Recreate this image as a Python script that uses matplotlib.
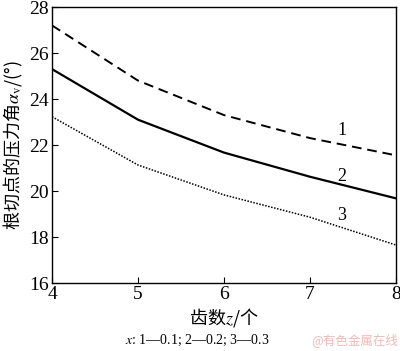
import matplotlib
matplotlib.use("Agg")
import matplotlib.pyplot as plt

z = [4, 5, 6, 7, 8]
curve1 = [27.2, 24.8, 23.3, 22.3, 21.55]
curve2 = [25.3, 23.1, 21.67, 20.62, 19.68]
curve3 = [23.23, 21.13, 19.83, 18.86, 17.65]
labels = ["1", "2", "3"]
label_pos = [(7.37, 22.65), (7.37, 20.65), (7.37, 18.95)]
xticks = [4, 5, 6, 7, 8]
yticks = [16, 18, 20, 22, 24, 26, 28]

plt.rcParams['font.family'] = ['Liberation Serif', 'Noto Sans CJK SC']
plt.rcParams['mathtext.fontset'] = 'stix'

fig = plt.figure(figsize=(4.0, 3.51), dpi=100)
ax = fig.add_axes([52/400, 1 - 283/351, 344/400, 276/351])

ax.plot(z, curve1, color='black', lw=1.4, linestyle=(0, (5, 3)))
ax.plot(z, curve2, color='black', lw=1.6, linestyle='-')
ax.plot(z, curve3, color='black', lw=1.1, linestyle=(0, (1, 1)))

for t, (x, y) in zip(labels, label_pos):
    ax.text(x, y, t, fontsize=13, ha='center', va='center')

ax.set_xlim(4, 8)
ax.set_ylim(16, 28)
ax.set_xticks(xticks)
ax.set_yticks(yticks)
ax.tick_params(direction='in', length=4, width=0.8, labelsize=14, pad=2)
for s in ax.spines.values():
    s.set_linewidth(1.0)

ax.set_xlabel('齿数$z$/个', fontsize=13, family=['Noto Sans CJK SC', 'DejaVu Sans'], labelpad=2)
ax.set_ylabel(r'根切点的压力角$\alpha_{\rm v}$/(°)', fontsize=13,
              family=['Noto Sans CJK SC', 'DejaVu Sans'], labelpad=3)

fig.text(197/400, 1 - 340/351, r'$x$: 1—0.1; 2—0.2; 3—0.3', fontsize=10,
         ha='center', va='center', family=['Liberation Serif', 'Noto Sans CJK SC'])
fig.text(355/400, 1 - 340/351, '@有色金属在线', fontsize=9, color='#f2b8b8',
         ha='center', va='center', family=['Noto Sans CJK SC'])

fig.savefig('out.png', dpi=100)
